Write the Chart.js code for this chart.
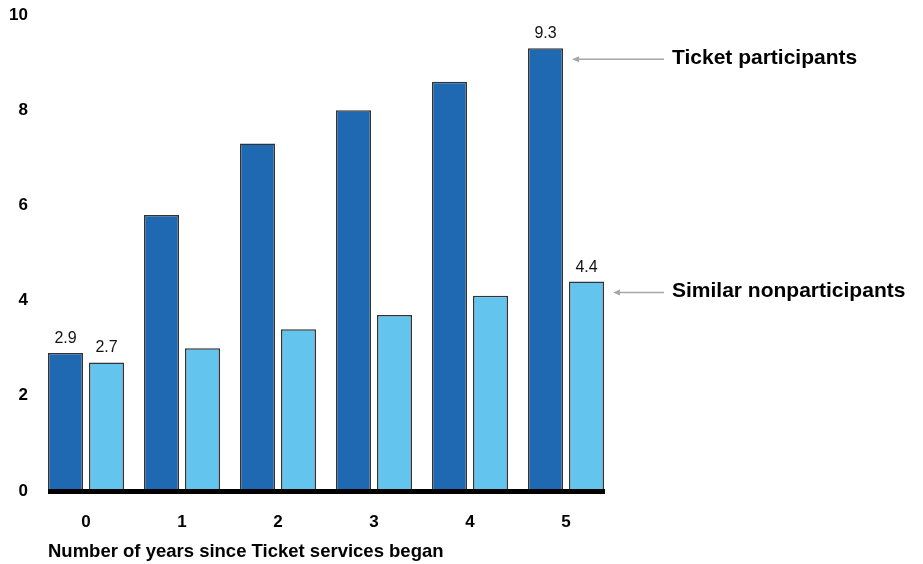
<!DOCTYPE html>
<html>
<head>
<meta charset="utf-8">
<script src="https://cdn.jsdelivr.net/npm/chart.js@4"></script>
<style>
  html, body { margin: 0; padding: 0; background: #fff; }
  #wrap { width: 923px; height: 564px; position: relative; }
</style>
</head>
<body>
<div id="wrap"><canvas id="c"></canvas></div>
<script>
const years = ['0', '1', '2', '3', '4', '5'];
const participants = [2.9, 5.8, 7.3, 8.0, 8.6, 9.3];
const nonparticipants = [2.7, 3.0, 3.4, 3.7, 4.1, 4.4];
const yTicks = [0, 2, 4, 6, 8, 10];
const seriesNames = ['Ticket participants', 'Similar nonparticipants'];
const axisTitle = 'Number of years since Ticket services began';
const labelIdx = [0, 5]; // only first and last groups carry value labels

const FONT = '"Liberation Sans", Arial, sans-serif';

// baseline, value labels, arrows with series names, axis title
const extras = {
    id: 'extras',
    afterDatasetsDraw(chart) {
        const ctx = chart.ctx;
        const y = chart.scales.y;
        const m0 = chart.getDatasetMeta(0).data;
        const m1 = chart.getDatasetMeta(1).data;
        const y0 = y.getPixelForValue(0);

        // thick black baseline from first bar to last bar
        const x1 = m0[0].x - m0[0].width / 2;
        const x2 = m1[m1.length - 1].x + m1[m1.length - 1].width / 2 + 1;
        ctx.save();
        ctx.fillStyle = '#000';
        ctx.fillRect(x1, y0 - 2, x2 - x1, 5);

        // value labels
        ctx.font = '16px ' + FONT;
        ctx.fillStyle = '#111';
        ctx.textAlign = 'center';
        ctx.textBaseline = 'alphabetic';
        labelIdx.forEach(i => {
            ctx.fillText(participants[i].toFixed(1), m0[i].x, m0[i].y - 10);
            ctx.fillText(nonparticipants[i].toFixed(1), m1[i].x, m1[i].y - 10);
        });

        // arrows + series names
        const last = years.length - 1;
        const tx = 672;
        const rows = [
            { bar: m0[last], name: seriesNames[0] },
            { bar: m1[last], name: seriesNames[1] }
        ];
        rows.forEach(r => {
            const ay = r.bar.y + 11;
            const ax = r.bar.x + r.bar.width / 2 + 9;
            ctx.strokeStyle = '#a6a6a6';
            ctx.fillStyle = '#a6a6a6';
            ctx.lineWidth = 1.5;
            ctx.beginPath();
            ctx.moveTo(tx - 8, ay);
            ctx.lineTo(ax + 5, ay);
            ctx.stroke();
            ctx.beginPath();
            ctx.moveTo(ax, ay);
            ctx.lineTo(ax + 7, ay - 3);
            ctx.lineTo(ax + 7, ay + 3);
            ctx.closePath();
            ctx.fill();

            ctx.fillStyle = '#000';
            ctx.font = 'bold 21px ' + FONT;
            ctx.textAlign = 'left';
            ctx.textBaseline = 'middle';
            ctx.fillText(r.name, tx, ay - 1);
        });

        // x axis title
        ctx.font = 'bold 18.5px ' + FONT;
        ctx.fillStyle = '#000';
        ctx.textAlign = 'left';
        ctx.textBaseline = 'middle';
        ctx.fillText(axisTitle, x1, 552);
        ctx.restore();
    }
};

new Chart(document.getElementById('c'), {
    type: 'bar',
    data: {
        labels: years,
        datasets: [
            {
                label: seriesNames[0],
                data: participants,
                backgroundColor: '#1f69b3',
                borderColor: '#333333',
                borderWidth: 1.5,
                borderSkipped: false
            },
            {
                label: seriesNames[1],
                data: nonparticipants,
                backgroundColor: '#63c4ee',
                borderColor: '#333333',
                borderWidth: 1.5,
                borderSkipped: false
            }
        ]
    },
    options: {
        responsive: true,
        maintainAspectRatio: false,
        animation: false,
        categoryPercentage: 82 / 96,
        barPercentage: 35 / 41,
        layout: { padding: { left: 0, right: 309, top: 15, bottom: 0 } },
        plugins: {
            legend: { display: false },
            tooltip: { enabled: false }
        },
        scales: {
            x: {
                grid: { display: false, drawTicks: false },
                border: { display: false },
                ticks: {
                    color: '#000',
                    font: { family: FONT, size: 17, weight: 'bold' },
                    padding: 21
                },
                afterFit(s) { s.height = 73; }
            },
            y: {
                min: 0,
                max: 10,
                grid: { display: false, drawTicks: false },
                border: { display: false },
                afterBuildTicks(s) { s.ticks = yTicks.map(v => ({ value: v })); },
                ticks: {
                    color: '#000',
                    font: { family: FONT, size: 17, weight: 'bold' },
                    padding: 10
                },
                afterFit(s) { s.width = 38; s.paddingTop = 0; s.paddingBottom = 0; }
            }
        }
    },
    plugins: [extras]
});
</script>
</body>
</html>
